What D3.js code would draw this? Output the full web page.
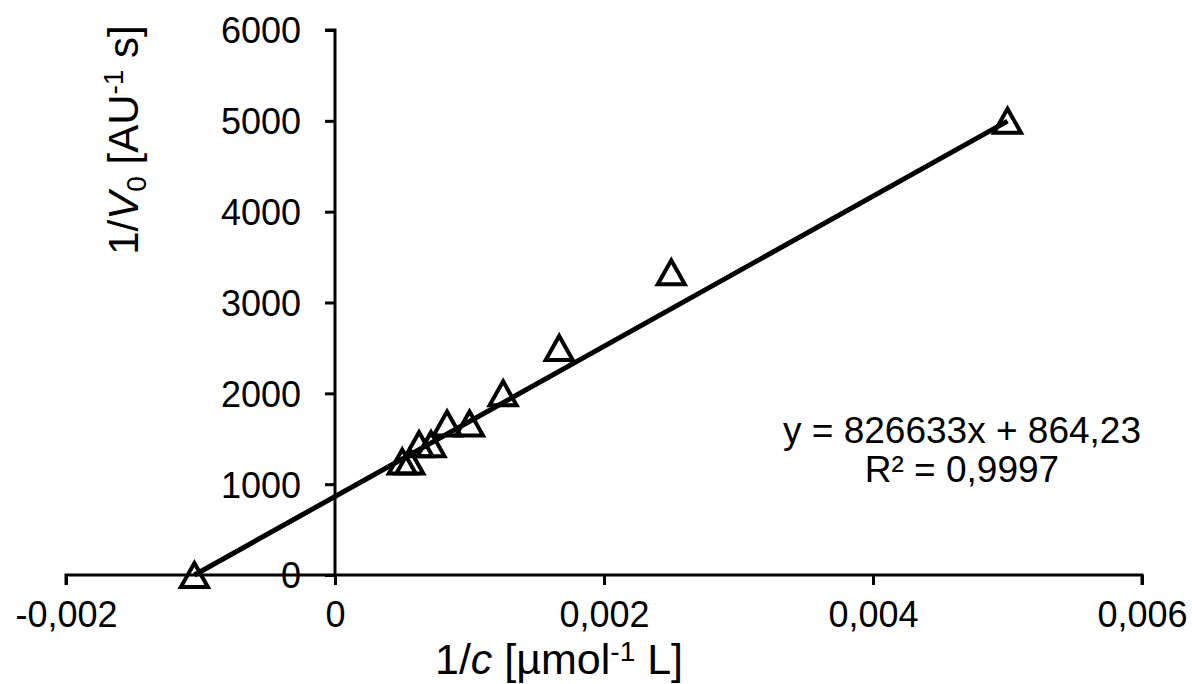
<!DOCTYPE html>
<html><head><meta charset="utf-8">
<script src="https://cdn.jsdelivr.net/npm/d3@7"></script>
<style>
body{margin:0;background:#fff;}
svg{display:block;font-family:"Liberation Sans",Arial,sans-serif;}
</style></head>
<body><svg id="c" width="1192" height="684"></svg>
<script>
const xValues = [-0.0010455, 0.0005, 0.000556, 0.000625, 0.000714, 0.000833, 0.001, 0.00125, 0.001667, 0.0025, 0.005];
const yValues = [0, 1250, 1250, 1440, 1440, 1667, 1667, 2000, 2500, 3333, 5000];
const xTicks = [-0.002, 0, 0.002, 0.004, 0.006];
const xTickLabels = ["-0,002", "0", "0,002", "0,004", "0,006"];
const yTicks = [0, 1000, 2000, 3000, 4000, 5000, 6000];
const fitSlope = 826633, fitIntercept = 864.23;
const fitRange = [-0.0010455, 0.005];
const eqText = "y = 826633x + 864,23";
const r2Text = "R² = 0,9997";

const svg = d3.select("#c");
const x = d3.scaleLinear().domain([-0.002, 0.006]).range([66, 1142]);
const y = d3.scaleLinear().domain([0, 6000]).range([575, 30]);
const FONT = "Liberation Sans, Arial, sans-serif";

// y axis at x=0
const yAxis = d3.axisLeft(y).tickValues(yTicks).tickSize(10).tickPadding(24).tickFormat(d3.format("d"));
const gy = svg.append("g").attr("transform", `translate(${x(0)},0)`).call(yAxis);
gy.select(".domain").attr("stroke", "#000").attr("stroke-width", 3).attr("d", `M-10,${y(6000)}H0V${y(0)}`);
gy.selectAll(".tick line").attr("stroke", "#000").attr("stroke-width", 3);
gy.selectAll(".tick text").attr("font-size", 36).attr("fill", "#000").attr("font-family", FONT).attr("dy", "0.36em");

// x axis at y=0
const xAxis = d3.axisBottom(x).tickValues(xTicks).tickSize(10).tickPadding(16).tickFormat((d, i) => xTickLabels[i]);
const gx = svg.append("g").attr("transform", `translate(0,${y(0)})`).call(xAxis);
gx.select(".domain").attr("stroke", "#000").attr("stroke-width", 3).attr("d", `M${x(-0.002)},10V0H${x(0.006)}V10`);
gx.selectAll(".tick line").attr("stroke", "#000").attr("stroke-width", 3);
gx.selectAll(".tick text").attr("font-size", 36).attr("fill", "#000").attr("font-family", FONT).attr("dy", "0.72em");

// trendline
svg.append("line")
  .attr("x1", x(fitRange[0])).attr("y1", y(fitSlope * fitRange[0] + fitIntercept))
  .attr("x2", x(fitRange[1])).attr("y2", y(fitSlope * fitRange[1] + fitIntercept))
  .attr("stroke", "#000").attr("stroke-width", 5);

// markers
const tri = "M0,-12L13.5,12L-13.5,12Z";
svg.append("g").selectAll("path").data(xValues.map((d, i) => [d, yValues[i]])).join("path")
  .attr("d", tri)
  .attr("transform", d => `translate(${x(d[0])},${y(d[1])})`)
  .attr("fill", "none").attr("stroke", "#000").attr("stroke-width", 4).attr("stroke-linejoin", "miter");

// equation
svg.append("text").attr("x", 962).attr("y", 443).attr("text-anchor", "middle").attr("font-size", 37).text(eqText);
svg.append("text").attr("x", 962).attr("y", 482).attr("text-anchor", "middle").attr("font-size", 37).text(r2Text);

// x title
const xt = svg.append("text").attr("x", 559).attr("y", 674).attr("text-anchor", "middle").attr("font-size", 43);
xt.append("tspan").text("1/");
xt.append("tspan").attr("font-style", "italic").text("c");
xt.append("tspan").text(" [µmol");
xt.append("tspan").attr("font-size", 28).attr("dy", -13).text("-1");
xt.append("tspan").attr("dy", 13).text(" L]");

// y title
const yt = svg.append("text").attr("transform", "translate(138,140) rotate(-90)").attr("text-anchor", "middle").attr("font-size", 42);
yt.append("tspan").text("1/");
yt.append("tspan").attr("font-style", "italic").text("V");
yt.append("tspan").attr("font-size", 28).attr("dy", 8).text("0");
yt.append("tspan").attr("dy", -8).text(" [AU");
yt.append("tspan").attr("font-size", 28).attr("dy", -15).text("-1");
yt.append("tspan").attr("dy", 15).text(" s]");
</script></body></html>
